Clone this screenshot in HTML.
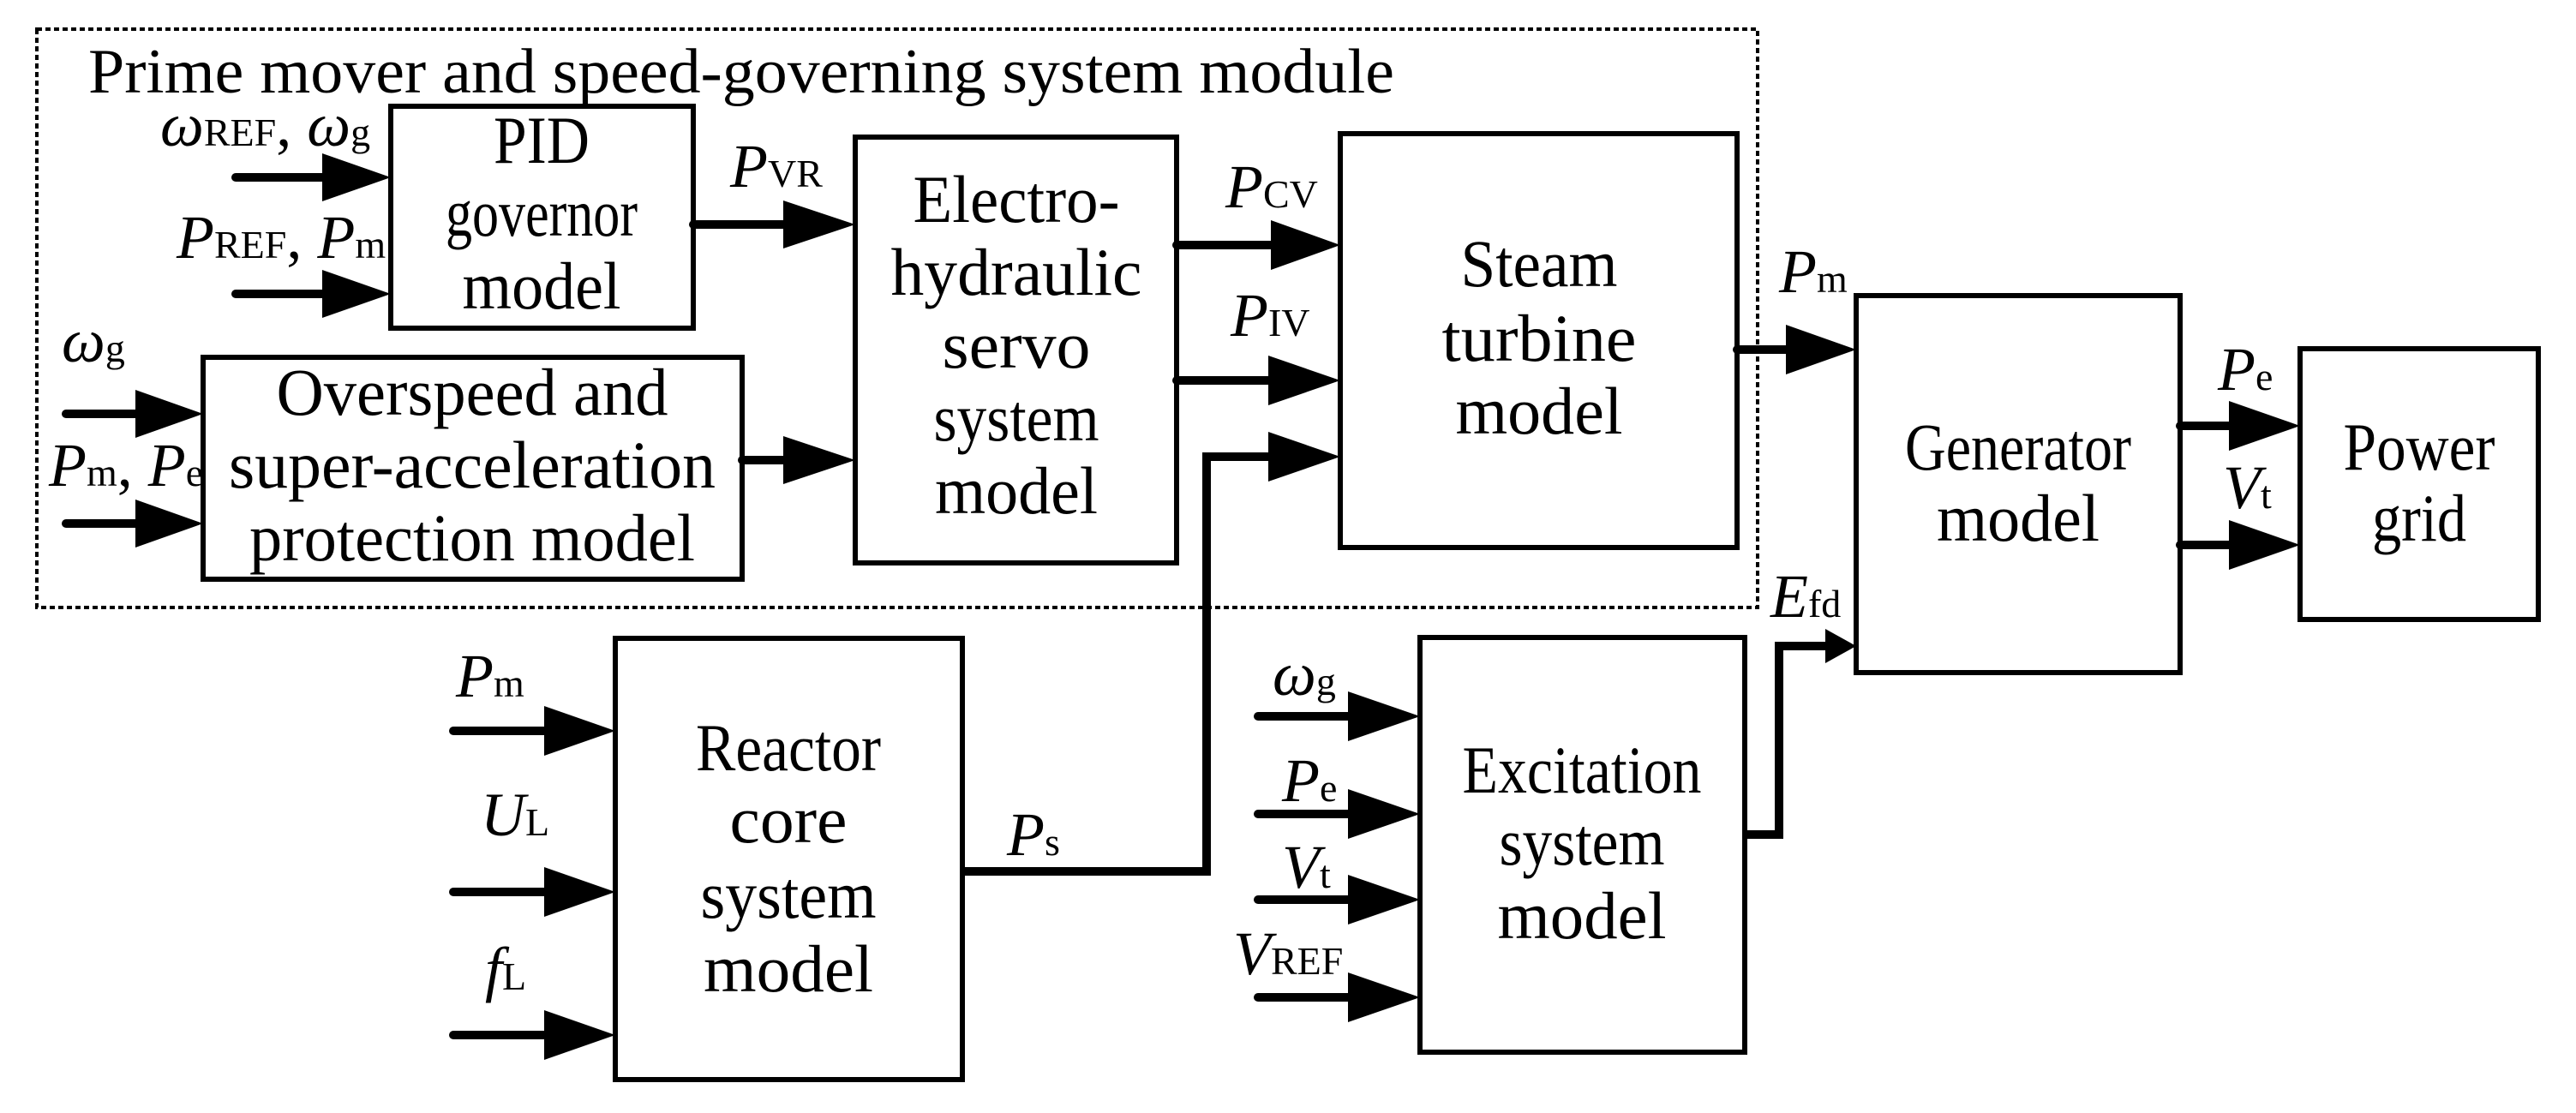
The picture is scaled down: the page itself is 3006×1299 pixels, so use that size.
<!DOCTYPE html>
<html><head><meta charset="utf-8"><style>
html,body{margin:0;padding:0;background:#fff;}
svg{display:block}
text{font-family:"Liberation Serif",serif;fill:#000;}
.t{font-size:78px;text-anchor:middle}
.v{font-size:72px;font-style:italic}
.s{font-size:46px;font-style:normal}
</style></head><body>
<svg width="3006" height="1299" viewBox="0 0 3006 1299" xmlns="http://www.w3.org/2000/svg">
<rect x="43" y="34" width="2008" height="675" fill="none" stroke="#000" stroke-width="4" stroke-dasharray="6,4"/>
<text x="103" y="108" font-size="74" textLength="1524" lengthAdjust="spacingAndGlyphs">Prime mover and speed-governing system module</text>

<g fill="none" stroke="#000" stroke-width="6">
<rect x="456" y="124" width="353" height="259"/>
<rect x="998" y="160" width="375" height="497"/>
<rect x="237" y="417" width="629" height="259"/>
<rect x="1564" y="156" width="463" height="483"/>
<rect x="2166" y="345" width="378" height="440"/>
<rect x="2684" y="407" width="278" height="316"/>
<rect x="718" y="745" width="405" height="515"/>
<rect x="1657" y="744" width="379" height="484"/>
</g>

<g fill="none" stroke="#000" stroke-width="10" stroke-linecap="round">
<line x1="275" y1="207" x2="400" y2="207"/>
<line x1="275" y1="343" x2="400" y2="343"/>
<line x1="77" y1="483" x2="180" y2="483"/>
<line x1="77" y1="611" x2="180" y2="611"/>
<line x1="809" y1="262" x2="930" y2="262"/>
<line x1="866" y1="537" x2="930" y2="537"/>
<line x1="1373" y1="286" x2="1490" y2="286"/>
<line x1="1373" y1="444" x2="1490" y2="444"/>
<polyline points="1123,1017 1408,1017 1408,533 1490,533" stroke-linecap="butt"/>
<line x1="2027" y1="408" x2="2100" y2="408"/>
<line x1="2544" y1="497" x2="2610" y2="497"/>
<line x1="2544" y1="636" x2="2610" y2="636"/>
<polyline points="2036,974 2076,974 2076,754 2140,754" stroke-linecap="butt"/>
<line x1="529" y1="853" x2="640" y2="853"/>
<line x1="529" y1="1041" x2="640" y2="1041"/>
<line x1="529" y1="1208" x2="640" y2="1208"/>
<line x1="1468" y1="836" x2="1580" y2="836"/>
<line x1="1468" y1="950" x2="1580" y2="950"/>
<line x1="1468" y1="1050" x2="1580" y2="1050"/>
<line x1="1468" y1="1164" x2="1580" y2="1164"/>
</g>

<g fill="#000">
<polygon points="376,179 456,207 376,235"/>
<polygon points="376,315 456,343 376,371"/>
<polygon points="158,455 237,483 158,511"/>
<polygon points="158,583 237,611 158,639"/>
<polygon points="914,234 998,262 914,290"/>
<polygon points="914,509 998,537 914,565"/>
<polygon points="1483,257 1564,286 1483,315"/>
<polygon points="1480,415 1564,444 1480,473"/>
<polygon points="1480,504 1564,533 1480,562"/>
<polygon points="2084,379 2166,408 2084,437"/>
<polygon points="2601,468 2684,497 2601,526"/>
<polygon points="2601,607 2684,636 2601,665"/>
<polygon points="2130,734 2166,754 2130,774"/>
<polygon points="635,824 718,853 635,882"/>
<polygon points="635,1012 718,1041 635,1070"/>
<polygon points="635,1179 718,1208 635,1237"/>
<polygon points="1573,807 1657,836 1573,865"/>
<polygon points="1573,921 1657,950 1573,979"/>
<polygon points="1573,1021 1657,1050 1573,1079"/>
<polygon points="1573,1135 1657,1164 1573,1193"/>
</g>

<g lengthAdjust="spacingAndGlyphs">
<text class="t" x="632" y="190" textLength="112" lengthAdjust="spacingAndGlyphs">PID</text>
<text class="t" x="632" y="275" textLength="224" lengthAdjust="spacingAndGlyphs">governor</text>
<text class="t" x="632" y="360" textLength="185" lengthAdjust="spacingAndGlyphs">model</text>
<text class="t" x="551" y="484" textLength="457" lengthAdjust="spacingAndGlyphs">Overspeed and</text>
<text class="t" x="551" y="569" textLength="568" lengthAdjust="spacingAndGlyphs">super-acceleration</text>
<text class="t" x="551" y="654" textLength="520" lengthAdjust="spacingAndGlyphs">protection model</text>
<text class="t" x="1186" y="259" textLength="241" lengthAdjust="spacingAndGlyphs">Electro-</text>
<text class="t" x="1186" y="344" textLength="293" lengthAdjust="spacingAndGlyphs">hydraulic</text>
<text class="t" x="1186" y="429" textLength="173" lengthAdjust="spacingAndGlyphs">servo</text>
<text class="t" x="1186" y="514" textLength="193" lengthAdjust="spacingAndGlyphs">system</text>
<text class="t" x="1186" y="599" textLength="190" lengthAdjust="spacingAndGlyphs">model</text>
<text class="t" x="1796" y="334" textLength="183" lengthAdjust="spacingAndGlyphs">Steam</text>
<text class="t" x="1796" y="421" textLength="227" lengthAdjust="spacingAndGlyphs">turbine</text>
<text class="t" x="1796" y="506" textLength="195" lengthAdjust="spacingAndGlyphs">model</text>
<text class="t" x="2355" y="548" textLength="264" lengthAdjust="spacingAndGlyphs">Generator</text>
<text class="t" x="2355" y="631" textLength="190" lengthAdjust="spacingAndGlyphs">model</text>
<text class="t" x="2823" y="548" textLength="177" lengthAdjust="spacingAndGlyphs">Power</text>
<text class="t" x="2823" y="631" textLength="110" lengthAdjust="spacingAndGlyphs">grid</text>
<text class="t" x="920" y="899" textLength="216" lengthAdjust="spacingAndGlyphs">Reactor</text>
<text class="t" x="920" y="983" textLength="137" lengthAdjust="spacingAndGlyphs">core</text>
<text class="t" x="920" y="1071" textLength="205" lengthAdjust="spacingAndGlyphs">system</text>
<text class="t" x="920" y="1157" textLength="198" lengthAdjust="spacingAndGlyphs">model</text>
<text class="t" x="1846" y="925" textLength="279" lengthAdjust="spacingAndGlyphs">Excitation</text>
<text class="t" x="1846" y="1009" textLength="193" lengthAdjust="spacingAndGlyphs">system</text>
<text class="t" x="1846" y="1095" textLength="197" lengthAdjust="spacingAndGlyphs">model</text>
</g>

<text class="v" x="187" y="170">ω<tspan class="s">REF</tspan><tspan font-style="normal">, </tspan>ω<tspan class="s">g</tspan></text>
<text class="v" x="206" y="301">P<tspan class="s">REF</tspan><tspan font-style="normal">, </tspan>P<tspan class="s">m</tspan></text>
<text class="v" x="852" y="218">P<tspan class="s">VR</tspan></text>
<text class="v" x="72" y="422">ω<tspan class="s">g</tspan></text>
<text class="v" x="57" y="567">P<tspan class="s">m</tspan><tspan font-style="normal">, </tspan>P<tspan class="s">e</tspan></text>
<text class="v" x="1430" y="242">P<tspan class="s">CV</tspan></text>
<text class="v" x="1436" y="392">P<tspan class="s">IV</tspan></text>
<text class="v" x="2076" y="341">P<tspan class="s">m</tspan></text>
<text class="v" x="2588" y="455">P<tspan class="s">e</tspan></text>
<text class="v" x="2594" y="593">V<tspan class="s">t</tspan></text>
<text class="v" x="2066" y="720">E<tspan class="s">fd</tspan></text>
<text class="v" x="532" y="813">P<tspan class="s">m</tspan></text>
<text class="v" x="561" y="975">U<tspan class="s">L</tspan></text>
<text class="v" x="566" y="1155">f<tspan class="s">L</tspan></text>
<text class="v" x="1175" y="998">P<tspan class="s">s</tspan></text>
<text class="v" x="1485" y="811">ω<tspan class="s">g</tspan></text>
<text class="v" x="1496" y="935">P<tspan class="s">e</tspan></text>
<text class="v" x="1496" y="1036">V<tspan class="s">t</tspan></text>
<text class="v" x="1439" y="1137">V<tspan class="s">REF</tspan></text>
</svg>
</body></html>
